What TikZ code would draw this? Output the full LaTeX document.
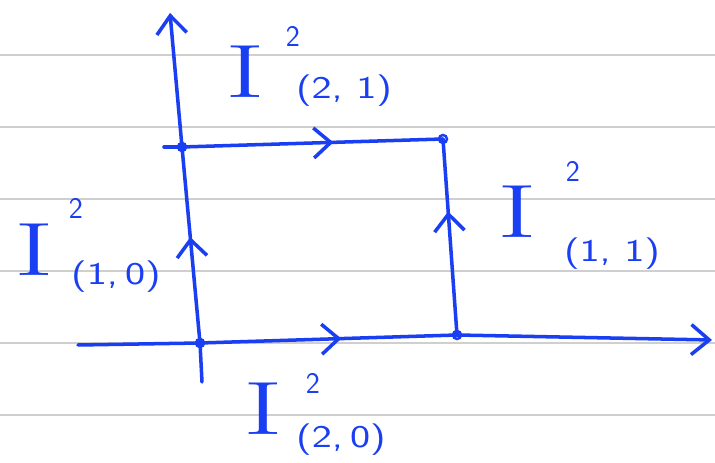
\documentclass[tikz,border=0pt]{standalone}
\usepackage{xcolor}
\usepackage{tikz}
\usetikzlibrary{arrows.meta,decorations.markings,positioning}
\definecolor{PenBlue}{HTML}{1A3EF2}
\definecolor{RuleGray}{HTML}{CFCFCF}
\tikzset{
  ink/.style={draw=PenBlue,line width=2pt,line cap=round,line join=round},
  rule/.style={draw=RuleGray,line width=1pt},
  barb/.style={-{Straight Barb[length=3.6mm,width=6mm]}},
  midbarb/.style={postaction={decorate},decoration={markings,
    mark=at position #1 with {\arrow[PenBlue]{Straight Barb[length=3.4mm,width=6mm]}}}},
  ring/.style={draw=PenBlue,line width=1.4pt},
  bigI/.style={text=PenBlue,inner sep=0pt,font=\fontsize{43}{43}\selectfont},
  supnum/.style={text=PenBlue,inner sep=0pt,font=\sffamily\fontsize{17}{17}\selectfont},
  subidx/.style={text=PenBlue,inner sep=0pt,font=\sffamily\fontsize{18}{18}\selectfont},
}
\begin{document}
\begin{tikzpicture}[x=0.2mm,y=-0.2mm]
\path[use as bounding box] (0,0) rectangle (715,463);
\fill[white] (0,0) rectangle (715,463);
\foreach \y in {55,127,199,271,343,415}
  \draw[rule] (0,\y) -- (715,\y);
\coordinate (O) at (200,343);
\coordinate (BR) at (457,335);
\coordinate (TL) at (182,147);
\coordinate (TR) at (443,139);
\coordinate (Ybot) at (202,382);
\coordinate (Ytop) at (170,13);
\coordinate (Xleft) at (78,345);
\coordinate (Xright) at (712,340);
\coordinate (TLstart) at (164,147);
\draw[ink] (Ybot) -- (O);
\draw[ink,midbarb=0.54] (O) -- (TL);
\draw[ink,barb] (TL) -- (Ytop);
\draw[ink] (Xleft) -- (O);
\draw[ink,midbarb=0.55] (O) -- (BR);
\draw[ink,barb] (BR) -- (Xright);
\draw[ink] (TLstart) -- (TL);
\draw[ink,midbarb=0.58] (TL) -- (TR);
\draw[ink,midbarb=0.63] (BR) -- (TR);
\foreach \c in {O,BR,TL,TR}
  \draw[ring] (\c) circle[radius=0.8mm];
\node[bigI] (I21) at (245,72) {\scalebox{1.6}[1]{I}};
\node[supnum] (I21sup) at (293,36) {2};
\node[subidx] (I21sub) at (344,91) {\scalebox{1.35}[1]{(2, 1)}};
\node[bigI] (I10) at (34,250) {\scalebox{1.6}[1]{I}};
\node[supnum] (I10sup) at (76,208) {2};
\node[subidx] (I10sub) at (116,277) {\scalebox{1.35}[1]{(1,\,0)}};
\node[bigI] (I11) at (517,212) {\scalebox{1.6}[1]{I}};
\node[supnum] (I11sup) at (573,171) {2};
\node[subidx] (I11sub) at (612,254) {\scalebox{1.35}[1]{(1, 1)}};
\node[bigI] (I20) at (263,409) {\scalebox{1.6}[1]{I}};
\node[supnum] (I20sup) at (313,383) {2};
\node[subidx] (I20sub) at (341,440) {\scalebox{1.35}[1]{(2,\,0)}};
\end{tikzpicture}
\end{document}
